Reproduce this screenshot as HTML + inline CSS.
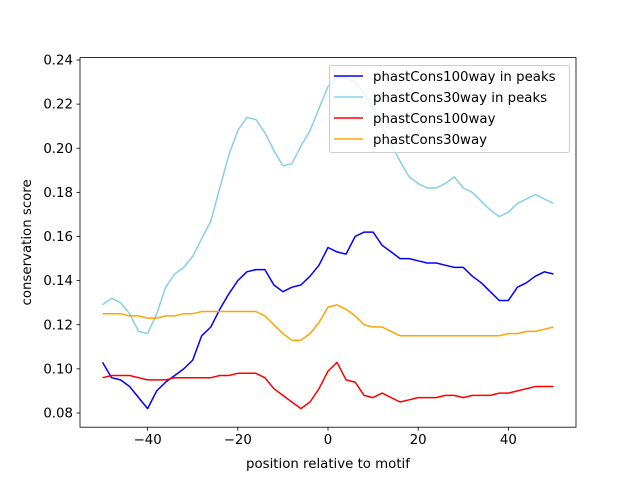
<!DOCTYPE html>
<html><head><meta charset="utf-8"><style>
body{margin:0;background:#fff;}
svg{display:block;font-family:"DejaVu Sans","Liberation Sans",sans-serif;}
</style></head><body>
<svg id="chart" width="640" height="480"></svg>
<script>
const xPositions=[-50,-48,-46,-44,-42,-40,-38,-36,-34,-32,-30,-28,-26,-24,-22,-20,-18,-16,-14,-12,-10,-8,-6,-4,-2,0,2,4,6,8,10,12,14,16,18,20,22,24,26,28,30,32,34,36,38,40,42,44,46,48,50];
const cons100Peaks=[.103,.096,.095,.092,.087,.082,.090,.094,.097,.100,.104,.115,.119,.127,.134,.140,.144,.145,.145,.138,.135,.137,.138,.142,.147,.155,.153,.152,.160,.162,.162,.156,.153,.150,.150,.149,.148,.148,.147,.146,.146,.142,.139,.135,.131,.131,.137,.139,.142,.144,.143];
const cons30Peaks=[.129,.132,.130,.125,.117,.116,.125,.137,.143,.146,.151,.159,.167,.182,.197,.208,.214,.213,.207,.199,.192,.193,.201,.208,.218,.228,.232,.232,.230,.225,.218,.210,.202,.194,.187,.184,.182,.182,.184,.187,.182,.180,.176,.172,.169,.171,.175,.177,.179,.177,.175];
const cons100=[.096,.097,.097,.097,.096,.095,.095,.095,.096,.096,.096,.096,.096,.097,.097,.098,.098,.098,.096,.091,.088,.085,.082,.085,.091,.099,.103,.095,.094,.088,.087,.089,.087,.085,.086,.087,.087,.087,.088,.088,.087,.088,.088,.088,.089,.089,.090,.091,.092,.092,.092];
const cons30=[.125,.125,.125,.124,.124,.123,.123,.124,.124,.125,.125,.126,.126,.126,.126,.126,.126,.126,.124,.120,.116,.113,.113,.116,.121,.128,.129,.127,.124,.120,.119,.119,.117,.115,.115,.115,.115,.115,.115,.115,.115,.115,.115,.115,.115,.116,.116,.117,.117,.118,.119];
const xTicks=[-40,-20,0,20,40];
const yTicks=[0.08,0.10,0.12,0.14,0.16,0.18,0.20,0.22,0.24];
const seriesNames=["phastCons100way in peaks","phastCons30way in peaks","phastCons100way","phastCons30way"];
const seriesColors=["#0000ff","#87ceeb","#ff0000","#ffa500"];
const seriesData=[cons100Peaks,cons30Peaks,cons100,cons30];

const L=80,R=576,T=57.6,B=427.2;
const xs=v=>L+(v+55)/110*(R-L);
const ys=v=>413-(v-0.08)/0.16*353;
const svg=document.getElementById('chart');
const NS='http://www.w3.org/2000/svg';
function mk(tag,attrs,parent){const e=document.createElementNS(NS,tag);for(const k in attrs)e.setAttribute(k,attrs[k]);(parent||svg).appendChild(e);return e;}

seriesData.forEach((d,i)=>{
  const p=mk('polyline',{points:d.map((v,j)=>xs(xPositions[j]).toFixed(1)+','+ys(v).toFixed(1)).join(' '),fill:'none',stroke:seriesColors[i],'stroke-width':1.5,'stroke-linejoin':'round'});
  
  
});
const frame=mk('rect',{x:L,y:T,width:R-L,height:B-T,fill:'none',stroke:'#000','stroke-width':0.8});


xTicks.forEach(t=>{
  const x=xs(t);
  mk('line',{x1:x,y1:B,x2:x,y2:B+3.5,stroke:'#000','stroke-width':0.8});
  const tx=mk('text',{x:x,y:B+17,'text-anchor':'middle','font-size':'10pt',fill:'#000'});
  tx.textContent=(t<0?'\u2212'+(-t):t);
  
  
});
yTicks.forEach(t=>{
  const y=ys(t);
  mk('line',{x1:L-3.5,y1:y,x2:L,y2:y,stroke:'#000','stroke-width':0.8});
  const tx=mk('text',{x:L-7,y:y+4.5,'text-anchor':'end','font-size':'10pt',fill:'#000'});
  tx.textContent=t.toFixed(2);
  
  
});
const xl=mk('text',{x:(L+R)/2,y:468,'text-anchor':'middle','font-size':'10pt'});
xl.textContent='position relative to motif';


const yl=mk('text',{x:31,y:(T+B)/2,'text-anchor':'middle','font-size':'10pt',transform:'rotate(-90 31 '+((T+B)/2)+')'});
yl.textContent='conservation score';


const lg=mk('g',{});


mk('rect',{x:329.5,y:65.5,width:240,height:87,rx:2,fill:'#fff','fill-opacity':0.8,stroke:'#ccc'},lg);
seriesNames.forEach((n,i)=>{
  const y=76+i*21;
  mk('line',{x1:334,y1:y,x2:363,y2:y,stroke:seriesColors[i],'stroke-width':1.5},lg);
  const t=mk('text',{x:373,y:y+5,'font-size':'10pt'},lg);
  t.textContent=n;
  
  
});
</script>
</body></html>
